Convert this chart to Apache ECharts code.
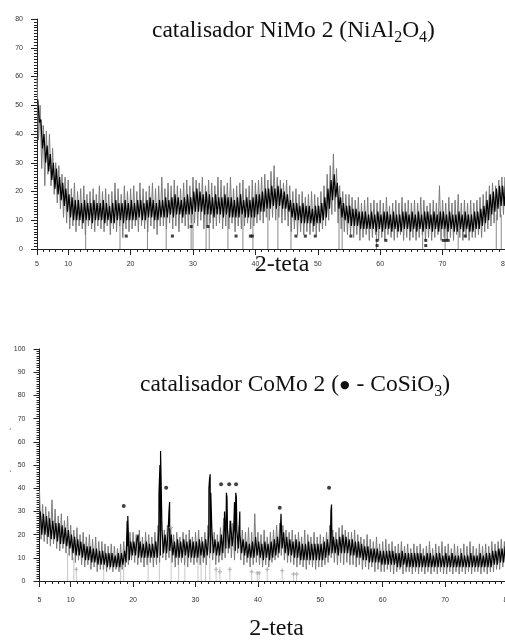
<!DOCTYPE html>
<html><head><meta charset="utf-8">
<script src="https://cdn.jsdelivr.net/npm/echarts@6/dist/echarts.min.js"></script>
<style>html,body{margin:0;padding:0;background:#fff}#c{width:505px;height:642px}</style>
</head><body><div id="c"></div>
<script>
// 2-theta grid: values below are read every 0.5 deg from 5 to 80
const angleStart = 5, angleStep = 0.5;
const xTickValues = [5, 10, 20, 30, 40, 50, 60, 70, 80];

// ---- catalisador NiMo 2 ----
const niBandHi = [52,45,40,36,33,30,28,25,23,21, 19,18,17,17,16,17,16,16,17,16, 16,17,16,15,16,17,16,16,17,16,
  17,16,17,17,16,17,18,17,16,17, 17,18,17,18,19,18,17,18,19,18, 20,21,20,19,20,19,18,19,18,18,
  19,18,18,17,18,19,17,18,17,18, 19,19,20,21,21,22,21,22,21,20, 19,17,16,16,15,16,15,15,14,15,
  15,16,18,21,24,26,23,18,16,15, 15,14,14,13,13,13,12,13,12,13, 12,13,13,12,13,12,12,13,13,12,
  13,12,13,12,13,13,12,13,12,13, 13,12,13,12,12,13,12,13,12,12, 13,13,14,15,17,19,20,21,22,22, 23];
const niBandLo = [44,35,30,27,24,21,19,17,15,13, 11,10,10,10,9,10,10,9,10,10, 10,9,10,9,9,10,10,9,10,10,
  10,10,11,10,10,11,11,10,10,11, 11,11,12,11,12,12,11,12,12,12, 13,13,13,12,12,12,11,12,12,11,
  12,11,11,11,11,12,11,11,11,11, 12,13,13,14,14,15,14,15,14,14, 13,11,10,10,9,9,9,9,8,9,
  9,10,11,14,17,18,14,11,10,9, 8,8,8,7,7,7,7,7,6,7, 6,7,7,6,7,6,6,7,7,6,
  7,6,7,6,7,7,6,7,6,7, 7,6,7,6,6,7,6,7,6,6, 7,7,8,9,10,12,13,14,15,15, 16];
const niGrayHi = [60,50,43,41,40,35,30,29,26,25, 24,21,23,20,21,22,19,20,21,19, 22,20,21,19,20,23,21,19,22,20,
  21,22,20,23,21,20,22,23,21,22, 25,21,23,22,24,22,21,23,24,22, 25,24,23,25,22,24,23,22,25,24,
  22,23,25,21,22,23,24,21,22,24, 23,24,25,26,24,27,29,25,24,23, 24,22,20,21,19,20,18,19,20,19,
  18,20,22,26,29,33,28,22,20,19, 19,18,17,18,16,17,18,16,17,16, 17,16,18,15,16,17,16,18,16,17,
  16,17,16,18,17,15,16,17,16,22, 17,16,18,16,17,19,16,17,16,17, 16,17,18,19,20,22,23,22,24,25, 25];
const niGrayLo = [38,28,22,26,22,19,16,14,11,9, 7,8,6,8,7,5,8,7,6,8, 7,6,8,5,7,6,8,4,7,6,
  7,8,6,8,7,6,8,7,5,8, 8,7,9,7,8,6,9,8,7,9, 9,8,10,7,8,9,7,8,9,7,
  8,7,9,6,8,7,8,9,7,8, 9,10,9,11,10,11,10,11,9,10, 8,6,7,5,6,5,6,5,6,5,
  6,7,8,10,12,13,9,7,6,5, 5,4,5,3,4,5,3,4,5,3, 4,3,5,4,3,4,5,3,4,3,
  4,3,4,5,3,4,3,4,5,3, 4,3,4,3,5,4,3,4,3,4, 4,5,4,6,7,8,9,10,11,12, 13];
const niSticks = [[12.8,10],[18.3,10],[22.7,10],[25.7,12],[29.7,12],[30.0,12],[32.1,13],[32.6,13],[35.6,12],[38.0,12],
  [39.6,12],[42.0,14],[43.6,14],[45.7,12],[53.4,18],[53.9,18],[59.4,7],[66.8,7],[70.4,7],[72.5,7],[78.6,12],[79.4,12]];
const niMarks = [[19.3,4.5],[26.7,4.5],[29.7,7.8],[32.4,7.8],[36.9,4.5],[39.2,4.5],[39.5,4.5],[46.5,4.5],[48.0,4.5],
  [49.6,4.5],[55.3,4.5],[59.5,3],[59.5,1.2],[60.9,3],[67.3,3],[67.3,1.2],[70.1,3],[70.5,3],[70.9,3],[73.6,4.5]];

// ---- catalisador CoMo 2 ----
const coBandHi = [30,29,28,27,26,25,25,24,23,22, 20,19,18,17,16,15,15,14,14,13, 13,12,12,12,11,12,12,13,15,17,
  17,18,17,16,17,16,16,17,22,22, 20,22,20,17,18,17,18,17,18,17, 17,18,17,18,20,22,18,17,20,25,
  22,26,22,22,20,18,17,16,17,19, 17,16,17,16,17,18,19,23,21,19, 18,17,18,17,16,16,17,16,16,16,
  16,17,18,18,19,18,19,20,19,18, 18,17,17,16,15,15,14,14,14,13, 13,13,13,13,12,12,13,12,12,12,
  12,12,12,11,12,12,11,12,12,11, 12,11,12,11,11,12,11,11,12,11, 11,12,11,12,12,13,13,14,14,15, 15];
const coBandLo = [20,20,19,18,18,17,16,16,15,14, 12,11,11,10,9,9,8,8,7,7, 7,6,6,6,6,6,7,8,9,11,
  11,10,10,10,10,10,10,10,11,12, 12,13,11,10,10,10,11,10,10,10, 10,11,10,11,12,12,11,11,12,14,
  14,15,13,14,12,11,10,10,10,11, 10,9,10,9,10,11,12,14,12,11, 11,10,10,9,9,9,9,9,9,9,
  9,10,11,12,12,11,12,12,12,11, 11,10,10,9,9,8,8,8,8,7, 7,7,7,7,6,6,7,6,6,6,
  6,6,6,6,6,6,6,6,6,6, 6,6,6,6,6,6,6,6,6,6, 6,6,6,6,6,7,7,8,8,9, 10];
const coGrayHi = [39,33,32,30,35,31,28,29,26,28, 24,22,23,20,21,19,20,18,19,17, 17,16,15,16,15,14,16,17,19,21,
  21,20,22,19,21,20,19,21,24,30, 22,24,23,20,21,19,21,20,22,19, 21,22,19,21,24,22,21,20,23,27,
  28,26,25,26,24,22,21,23,21,29, 21,20,22,19,21,22,24,25,24,22, 21,22,20,21,19,22,20,19,21,19,
  20,19,21,24,22,21,23,24,22,21, 21,22,20,19,18,20,18,17,19,16, 17,18,16,17,15,16,17,15,16,14,
  16,15,16,14,15,17,14,16,15,17, 15,16,14,16,15,14,16,15,17,15, 14,16,15,16,15,17,16,17,18,17, 20];
const coGrayLo = [18,17,16,15,16,14,13,14,12,11, 9,8,9,7,6,7,5,6,4,5, 5,4,5,4,5,4,5,6,7,9,
  8,7,8,6,7,8,6,7,8,10, 9,10,8,6,7,8,7,6,8,7, 8,7,8,7,10,9,7,8,9,10,
  12,10,9,12,9,7,8,6,7,8, 7,6,7,6,8,9,10,11,9,8, 8,7,6,7,6,5,7,6,5,6,
  6,7,8,10,8,7,8,7,8,7, 7,6,7,5,6,5,6,4,5,4, 4,5,4,3,4,5,3,4,4,3,
  4,3,4,3,4,3,4,3,4,3, 3,4,3,4,3,4,3,4,3,4, 4,3,4,3,4,4,5,5,6,6, 7];
const coPeaks = [[19.05,26],[19.15,28],[20.8,20],[24.15,38],[24.3,50],[24.4,56],[24.5,42],[25.75,30],[25.85,34],
  [32.15,40],[32.25,44],[32.35,46],[32.45,38],[34.65,30],[34.95,38],[35.05,36],[36.25,34],[36.45,38],[36.55,36],
  [37.1,30],[43.7,29],[51.7,30],[51.8,33]];
const coSticks = [[9.5,12],[10.5,10],[10.9,6],[15.3,8],[18.0,8],[18.5,8],[22.4,10],[24.2,40],[26.1,23],[27.3,10],
  [28.3,10],[30.4,12],[30.9,12],[31.6,12],[32.3,12],[33.3,6],[33.9,6],[35.5,6],[39.0,5],[39.9,4],[40.2,4],
  [41.5,6],[43.9,5],[45.7,3],[46.2,3]];
const coPlus = [[10.9,5],[26.1,23],[33.3,5],[33.9,4],[35.5,5],[39.0,4],[39.9,3.5],[40.2,3.5],[41.5,5],[43.9,4.5],[45.7,3],[46.2,3]];
const coDots = [[18.5,32.3],[25.3,40.2],[34.1,41.7],[35.4,41.7],[36.5,41.7],[43.5,31.6],[51.4,40.2]];

function zigzag(hi, lo, offHi, offLo, extra) {
  const pts = [];
  hi.forEach((h, i) => {
    const x = angleStart + i * angleStep;
    pts.push([x + offHi, h]);
    pts.push([x + offLo, lo[i]]);
  });
  if (extra) { extra.forEach(p => pts.push(p)); pts.sort((a, b) => a[0] - b[0]); }
  return pts;
}

const axisColor = '#222', labelColor = '#333';
function mainXAxis(gridIndex, nameGap, namePad) {
  return {
    type: 'value', gridIndex, min: 5, max: 80, position: 'bottom',
    axisLine: { show: true, lineStyle: { color: axisColor, width: 1 } },
    axisTick: { show: true, customValues: xTickValues, length: 6, lineStyle: { color: axisColor } },
    axisLabel: { customValues: xTickValues, fontSize: 7, color: labelColor, margin: gridIndex === 0 ? 12 : 16, fontFamily: 'Liberation Sans' },
    splitLine: { show: false },
    name: '2-teta', nameLocation: 'middle', nameGap, nameMoveOverlap: false,
    nameTextStyle: { fontFamily: 'Liberation Serif', fontSize: 24, color: '#111', padding: namePad }
  };
}
function minorXAxis(gridIndex) {
  return {
    type: 'value', gridIndex, min: 5, max: 80, interval: 1, position: 'bottom',
    axisLine: { show: false }, axisLabel: { show: false }, splitLine: { show: false },
    axisTick: { show: true, length: 3, lineStyle: { color: axisColor } }
  };
}
function yAxis(gridIndex, max, hidden) {
  return {
    type: 'value', gridIndex, min: 0, max, interval: 10, show: !hidden,
    axisLine: { show: true, lineStyle: { color: axisColor, width: 1 } },
    axisTick: { show: true, length: 6, lineStyle: { color: axisColor } },
    minorTick: { show: true, splitNumber: 10, length: 3, lineStyle: { color: axisColor } },
    axisLabel: { fontSize: 7, color: labelColor, margin: 14, fontFamily: 'Liberation Sans' },
    splitLine: { show: false }
  };
}
const titleRich = {
  a: { fontFamily: 'Liberation Serif', fontSize: 23.5, fontWeight: 'normal', color: '#111', lineHeight: 28, verticalAlign: 'bottom', padding: [0, 0, 3, 0] },
  s: { fontFamily: 'Liberation Serif', fontSize: 16, fontWeight: 'normal', color: '#111', lineHeight: 20, verticalAlign: 'bottom' },
  d: { fontFamily: 'DejaVu Sans', fontSize: 11, fontWeight: 'normal', color: '#111', lineHeight: 12, verticalAlign: 'bottom', padding: [0, 1, 9, 1] }
};

const topGrid = { left: 37, top: 19, width: 468, height: 230, outerBoundsMode: 'none', containLabel: false };
const botGrid = { left: 39.5, top: 349, width: 468, height: 232, outerBoundsMode: 'none', containLabel: false };

const chart = echarts.init(document.getElementById('c'), null, { renderer: 'canvas' });
chart.setOption({
  animation: false,
  backgroundColor: '#fff',
  title: [
    { text: '{a|catalisador NiMo 2 (NiAl}{s|2}{a|O}{s|4}{a|)}', left: 152, top: 18, padding: 0, textStyle: { fontWeight: 'normal', rich: titleRich } },
    { text: '{a|catalisador CoMo 2 (}{d|●}{a| - CoSiO}{s|3}{a|)}', left: 140, top: 372, padding: 0, textStyle: { fontWeight: 'normal', rich: titleRich } }
  ],
  graphic: [
    { type: 'text', left: 9, top: 428, style: { text: '\u00b4', fontSize: 9, fill: '#555', fontFamily: 'Liberation Sans' } },
    { type: 'text', left: 9, top: 470, style: { text: '`', fontSize: 9, fill: '#555', fontFamily: 'Liberation Sans' } }
  ],
  grid: [topGrid, botGrid, Object.assign({}, topGrid), Object.assign({}, botGrid)],
  xAxis: [mainXAxis(0, 4, [0, 0, 0, 22]), mainXAxis(1, 36, [0, 0, 0, 6]), minorXAxis(2), minorXAxis(3)],
  yAxis: [yAxis(0, 80), yAxis(1, 100), yAxis(2, 80, true), yAxis(3, 100, true)],
  series: [
    { type: 'bar', xAxisIndex: 0, yAxisIndex: 0, data: niSticks, barWidth: 1, itemStyle: { color: '#8a8a8a' }, z: 1 },
    { type: 'line', xAxisIndex: 0, yAxisIndex: 0, data: zigzag(niGrayHi, niGrayLo, 0, 0.25), showSymbol: false,
      lineStyle: { color: '#7a7a7a', width: 1 }, z: 2 },
    { type: 'line', xAxisIndex: 0, yAxisIndex: 0, data: zigzag(niBandHi, niBandLo, 0.125, 0.375), showSymbol: false,
      lineStyle: { color: '#000', width: 1.2 }, z: 3 },
    { type: 'scatter', xAxisIndex: 0, yAxisIndex: 0, data: niMarks, symbol: 'rect', symbolSize: 3, itemStyle: { color: '#111' }, z: 4 },

    { type: 'bar', xAxisIndex: 1, yAxisIndex: 1, data: coSticks, barWidth: 1, itemStyle: { color: '#c8c8c8' }, z: 1 },
    { type: 'line', xAxisIndex: 1, yAxisIndex: 1, data: zigzag(coGrayHi, coGrayLo, 0, 0.25), showSymbol: false,
      lineStyle: { color: '#7a7a7a', width: 1 }, z: 2 },
    { type: 'line', xAxisIndex: 1, yAxisIndex: 1, data: zigzag(coBandHi, coBandLo, 0.125, 0.375, coPeaks), showSymbol: false,
      lineStyle: { color: '#000', width: 1.2 }, z: 3 },
    { type: 'scatter', xAxisIndex: 1, yAxisIndex: 1, data: coPlus, symbol: 'path://M-1,-3H1V-1H3V1H1V3H-1V1H-3V-1H-1Z', symbolSize: 4,
      itemStyle: { color: '#b0b0b0' }, z: 4 },
    { type: 'scatter', xAxisIndex: 1, yAxisIndex: 1, data: coDots, symbol: 'circle', symbolSize: 4, itemStyle: { color: '#111' }, z: 5 }
  ]
});
</script>
</body></html>
